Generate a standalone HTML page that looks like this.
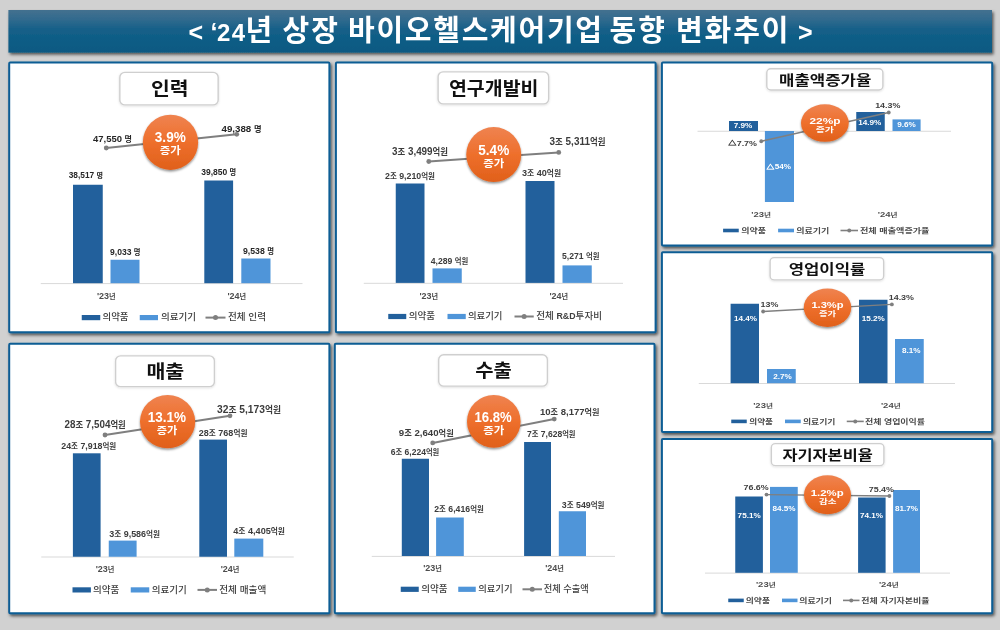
<!DOCTYPE html>
<html lang="ko"><head><meta charset="utf-8"><title>'24년 상장 바이오헬스케어기업 동향 변화추이</title>
<style>
html,body{margin:0;padding:0}
body{width:1000px;height:630px;position:relative;overflow:hidden;background:#d1d1d1;font-family:"Liberation Sans", "Noto Sans CJK KR", sans-serif;}
svg{position:absolute;left:0;top:0;display:block;filter:blur(0.35px)}
svg text{font-family:"Liberation Sans", "Noto Sans CJK KR", sans-serif;}
</style></head><body>

<svg width="1000" height="630" viewBox="0 0 1000 630">
<defs><linearGradient id="tg" x1="0" y1="0" x2="0" y2="1"><stop offset="0" stop-color="#44708f"/><stop offset="0.2" stop-color="#336b8e"/><stop offset="0.48" stop-color="#135f88"/><stop offset="1" stop-color="#0b5982"/></linearGradient><filter id="ps" x="-2%" y="-2%" width="104%" height="104%"><feDropShadow dx="1.5" dy="2" stdDeviation="1.5" flood-color="#000" flood-opacity="0.6"/></filter><filter id="hs" x="-5%" y="-10%" width="110%" height="130%"><feDropShadow dx="0" dy="0.8" stdDeviation="0.8" flood-color="#000" flood-opacity="0.13"/></filter><linearGradient id="og" x1="0" y1="0" x2="0" y2="1"><stop offset="0" stop-color="#ef8350"/><stop offset="0.5" stop-color="#ee6f2c"/><stop offset="1" stop-color="#e0601a"/></linearGradient><filter id="sh" x="-20%" y="-20%" width="140%" height="150%"><feDropShadow dx="0" dy="1.5" stdDeviation="1.3" flood-color="#000" flood-opacity="0.45"/></filter></defs>
<g filter="url(#ps)">
<rect x="8.4" y="10" width="983.6" height="42.6" fill="url(#tg)"/>
<rect x="9.2" y="62.4" width="320.2" height="269.8" rx="1" fill="#fff" stroke="#0a5d94" stroke-width="2"/>
<rect x="335.9" y="62.4" width="319.7" height="269.8" rx="1" fill="#fff" stroke="#0a5d94" stroke-width="2"/>
<rect x="661.9" y="62.5" width="330.3" height="182.9" rx="1" fill="#fff" stroke="#0a5d94" stroke-width="2"/>
<rect x="9.2" y="343.8" width="320.2" height="269.4" rx="1" fill="#fff" stroke="#0a5d94" stroke-width="2"/>
<rect x="334.8" y="343.8" width="319.7" height="269.4" rx="1" fill="#fff" stroke="#0a5d94" stroke-width="2"/>
<rect x="661.9" y="252.2" width="330.3" height="179.9" rx="1" fill="#fff" stroke="#0a5d94" stroke-width="2"/>
<rect x="661.9" y="439" width="330.3" height="174.2" rx="1" fill="#fff" stroke="#0a5d94" stroke-width="2"/>
</g>
<g filter="url(#hs)">
<rect x="119.85" y="72.35" width="98.3" height="32.55" rx="5" fill="#fff" stroke="#cfcfcf" stroke-width="1.4"/>
<rect x="438.1" y="71.85" width="110.55" height="32.05" rx="5" fill="#fff" stroke="#cfcfcf" stroke-width="1.4"/>
<rect x="115.6" y="355.85" width="98.8" height="30.8" rx="5" fill="#fff" stroke="#cfcfcf" stroke-width="1.4"/>
<rect x="438.7" y="354.8" width="108.7" height="31.35" rx="5" fill="#fff" stroke="#cfcfcf" stroke-width="1.4"/>
<rect x="766.8" y="68.7" width="116.1" height="21.3" rx="4" fill="#fff" stroke="#cfcfcf" stroke-width="1.4"/>
<rect x="770.1" y="257.6" width="113.55" height="22.3" rx="4" fill="#fff" stroke="#cfcfcf" stroke-width="1.4"/>
<rect x="771.35" y="443.6" width="112.55" height="22.05" rx="4" fill="#fff" stroke="#cfcfcf" stroke-width="1.4"/>
</g>
<text y="40.5" font-weight="700" fill="#fff"><tspan x="188.5" font-size="25">&lt;</tspan> <tspan x="210.5" font-size="25">‘</tspan><tspan x="217" font-size="24" textLength="28" lengthAdjust="spacing">24</tspan><tspan x="245.5" font-size="29">년</tspan> <tspan x="282.5" font-size="29" textLength="55.5" lengthAdjust="spacing">상장</tspan> <tspan x="348" font-size="29" textLength="254" lengthAdjust="spacing">바이오헬스케어기업</tspan> <tspan x="609.5" font-size="29" textLength="55.5" lengthAdjust="spacing">동향</tspan> <tspan x="676" font-size="29" textLength="112.5" lengthAdjust="spacing">변화추이</tspan> <tspan x="798" font-size="25">&gt;</tspan></text>
<line x1="40.75" y1="283.6" x2="302.5" y2="283.6" stroke="#d9d9d9" stroke-width="1"/>
<rect x="73" y="184.75" width="29.75" height="98.45" fill="#22609c"/>
<rect x="110.5" y="259.75" width="29" height="23.45" fill="#4f95d9"/>
<rect x="204.3" y="180.5" width="28.8" height="102.7" fill="#22609c"/>
<rect x="241.3" y="258.5" width="29.2" height="24.7" fill="#4f95d9"/>
<line x1="106.25" y1="148" x2="236.75" y2="134.3" stroke="#7f7f7f" stroke-width="2"/>
<circle cx="106.25" cy="148" r="2.4" fill="#7f7f7f"/>
<circle cx="236.75" cy="134.3" r="2.4" fill="#7f7f7f"/>
<text x="93" y="142.23" font-size="9.73" font-weight="700" fill="#262626" text-anchor="start" textLength="39" lengthAdjust="spacingAndGlyphs">47,550 <tspan font-size="8.27">명</tspan></text>
<text x="221.5" y="131.82" font-size="9.98" font-weight="700" fill="#262626" text-anchor="start" textLength="40" lengthAdjust="spacingAndGlyphs">49,388 <tspan font-size="8.48">명</tspan></text>
<text x="68.75" y="178.06" font-size="8.55" font-weight="700" fill="#262626" text-anchor="start" textLength="34.25" lengthAdjust="spacingAndGlyphs">38,517 <tspan font-size="7.27">명</tspan></text>
<text x="110" y="255.4" font-size="8.8" font-weight="700" fill="#262626" text-anchor="start" textLength="30.5" lengthAdjust="spacingAndGlyphs">9,033 <tspan font-size="7.48">명</tspan></text>
<text x="201.25" y="175.33" font-size="8.73" font-weight="700" fill="#262626" text-anchor="start" textLength="35" lengthAdjust="spacingAndGlyphs">39,850 <tspan font-size="7.42">명</tspan></text>
<text x="243" y="254.2" font-size="8.94" font-weight="700" fill="#262626" text-anchor="start" textLength="31" lengthAdjust="spacingAndGlyphs">9,538 <tspan font-size="7.6">명</tspan></text>
<text x="96.9" y="298.76" font-size="8.268" font-weight="700" fill="#4d4d4d" text-anchor="start" textLength="18.7" lengthAdjust="spacingAndGlyphs">'23<tspan font-size="6.61">년</tspan></text>
<text x="227.4" y="298.76" font-size="8.268" font-weight="700" fill="#4d4d4d" text-anchor="start" textLength="18.7" lengthAdjust="spacingAndGlyphs">'24<tspan font-size="6.61">년</tspan></text>
<rect x="81.75" y="315" width="18.5" height="5.2" fill="#22609c"/>
<text x="102.5" y="320.4" font-size="9.5" font-weight="500" fill="#404040" text-anchor="start" textLength="26" lengthAdjust="spacingAndGlyphs">의약품</text>
<rect x="139.75" y="315" width="18.25" height="5.2" fill="#4f95d9"/>
<text x="161" y="320.4" font-size="9.5" font-weight="500" fill="#404040" text-anchor="start" textLength="35" lengthAdjust="spacingAndGlyphs">의료기기</text>
<line x1="205.5" y1="317.6" x2="225.5" y2="317.6" stroke="#7f7f7f" stroke-width="2"/>
<circle cx="215.5" cy="317.6" r="2.5" fill="#7f7f7f"/>
<text x="228" y="320.4" font-size="9.5" font-weight="500" fill="#404040" text-anchor="start" textLength="38" lengthAdjust="spacingAndGlyphs">전체 인력</text>
<line x1="363.75" y1="283.3" x2="623" y2="283.3" stroke="#d9d9d9" stroke-width="1"/>
<rect x="395.75" y="183.5" width="28.75" height="99.4" fill="#22609c"/>
<rect x="432.5" y="268.4" width="29.25" height="14.5" fill="#4f95d9"/>
<rect x="525.5" y="181" width="29" height="101.9" fill="#22609c"/>
<rect x="562.5" y="265.4" width="29.25" height="17.5" fill="#4f95d9"/>
<line x1="428.75" y1="161.5" x2="558.75" y2="152.4" stroke="#7f7f7f" stroke-width="2"/>
<circle cx="428.75" cy="161.5" r="2.4" fill="#7f7f7f"/>
<circle cx="558.75" cy="152.4" r="2.4" fill="#7f7f7f"/>
<text x="392" y="154.62" font-size="10.1" font-weight="700" fill="#3c3c3c" text-anchor="start" textLength="56" lengthAdjust="spacingAndGlyphs">3<tspan font-size="8.58">조</tspan> 3,499<tspan font-size="8.58">억원</tspan></text>
<text x="549.5" y="144.62" font-size="10.1" font-weight="700" fill="#3c3c3c" text-anchor="start" textLength="56" lengthAdjust="spacingAndGlyphs">3<tspan font-size="8.58">조</tspan> 5,311<tspan font-size="8.58">억원</tspan></text>
<text x="385" y="179.23" font-size="9.02" font-weight="700" fill="#3c3c3c" text-anchor="start" textLength="50" lengthAdjust="spacingAndGlyphs">2<tspan font-size="7.67">조</tspan> 9,210<tspan font-size="7.67">억원</tspan></text>
<text x="522" y="175.83" font-size="9.3" font-weight="700" fill="#3c3c3c" text-anchor="start" textLength="39" lengthAdjust="spacingAndGlyphs">3<tspan font-size="7.91">조</tspan> 40<tspan font-size="7.91">억원</tspan></text>
<text x="430.75" y="263.67" font-size="8.85" font-weight="700" fill="#3c3c3c" text-anchor="start" textLength="37.5" lengthAdjust="spacingAndGlyphs">4,289 <tspan font-size="7.52">억원</tspan></text>
<text x="562" y="258.92" font-size="8.85" font-weight="700" fill="#3c3c3c" text-anchor="start" textLength="37.5" lengthAdjust="spacingAndGlyphs">5,271 <tspan font-size="7.52">억원</tspan></text>
<text x="419.4" y="299.01" font-size="8.268" font-weight="700" fill="#4d4d4d" text-anchor="start" textLength="18.7" lengthAdjust="spacingAndGlyphs">'23<tspan font-size="6.61">년</tspan></text>
<text x="549.4" y="299.01" font-size="8.268" font-weight="700" fill="#4d4d4d" text-anchor="start" textLength="18.7" lengthAdjust="spacingAndGlyphs">'24<tspan font-size="6.61">년</tspan></text>
<rect x="388.25" y="313.9" width="18" height="5.2" fill="#22609c"/>
<text x="408.75" y="319.3" font-size="9.5" font-weight="500" fill="#404040" text-anchor="start" textLength="26.25" lengthAdjust="spacingAndGlyphs">의약품</text>
<rect x="447.5" y="313.9" width="18.25" height="5.2" fill="#4f95d9"/>
<text x="468" y="319.3" font-size="9.5" font-weight="500" fill="#404040" text-anchor="start" textLength="34.5" lengthAdjust="spacingAndGlyphs">의료기기</text>
<line x1="514.5" y1="316.5" x2="533.75" y2="316.5" stroke="#7f7f7f" stroke-width="2"/>
<circle cx="524.125" cy="316.5" r="2.5" fill="#7f7f7f"/>
<text x="536.25" y="319.3" font-size="9.5" font-weight="500" fill="#404040" text-anchor="start" textLength="65.75" lengthAdjust="spacingAndGlyphs">전체 <tspan font-weight="700" font-size="8.74">R&amp;D</tspan>투자비</text>
<line x1="41.25" y1="557" x2="293.75" y2="557" stroke="#d9d9d9" stroke-width="1"/>
<rect x="72.9" y="453.3" width="27.7" height="103.45" fill="#22609c"/>
<rect x="108.75" y="540.6" width="27.85" height="16.15" fill="#4f95d9"/>
<rect x="199.3" y="439.6" width="27.7" height="117.15" fill="#22609c"/>
<rect x="234.3" y="538.6" width="29" height="18.15" fill="#4f95d9"/>
<line x1="105" y1="435" x2="230" y2="415.8" stroke="#7f7f7f" stroke-width="2"/>
<circle cx="105" cy="435" r="2.4" fill="#7f7f7f"/>
<circle cx="230" cy="415.8" r="2.4" fill="#7f7f7f"/>
<text x="64.5" y="428.31" font-size="10.07" font-weight="700" fill="#3c3c3c" text-anchor="start" textLength="61.25" lengthAdjust="spacingAndGlyphs">28<tspan font-size="8.56">조</tspan> 7,504<tspan font-size="8.56">억원</tspan></text>
<text x="217" y="413.27" font-size="10.52" font-weight="700" fill="#3c3c3c" text-anchor="start" textLength="64" lengthAdjust="spacingAndGlyphs">32<tspan font-size="8.94">조</tspan> 5,173<tspan font-size="8.94">억원</tspan></text>
<text x="61.25" y="448.54" font-size="9.04" font-weight="700" fill="#3c3c3c" text-anchor="start" textLength="55" lengthAdjust="spacingAndGlyphs">24<tspan font-size="7.68">조</tspan> 7,918<tspan font-size="7.68">억원</tspan></text>
<text x="198.75" y="436.31" font-size="9.24" font-weight="700" fill="#3c3c3c" text-anchor="start" textLength="48.75" lengthAdjust="spacingAndGlyphs">28<tspan font-size="7.85">조</tspan> 768<tspan font-size="7.85">억원</tspan></text>
<text x="109.25" y="536.53" font-size="9.16" font-weight="700" fill="#3c3c3c" text-anchor="start" textLength="50.75" lengthAdjust="spacingAndGlyphs">3<tspan font-size="7.79">조</tspan> 9,586<tspan font-size="7.79">억원</tspan></text>
<text x="233.25" y="534.09" font-size="9.34" font-weight="700" fill="#3c3c3c" text-anchor="start" textLength="51.75" lengthAdjust="spacingAndGlyphs">4<tspan font-size="7.94">조</tspan> 4,405<tspan font-size="7.94">억원</tspan></text>
<text x="95.65" y="572.26" font-size="8.268" font-weight="700" fill="#4d4d4d" text-anchor="start" textLength="18.7" lengthAdjust="spacingAndGlyphs">'23<tspan font-size="6.61">년</tspan></text>
<text x="220.65" y="572.26" font-size="8.268" font-weight="700" fill="#4d4d4d" text-anchor="start" textLength="18.7" lengthAdjust="spacingAndGlyphs">'24<tspan font-size="6.61">년</tspan></text>
<rect x="72.5" y="587.3" width="18.4" height="5.2" fill="#22609c"/>
<text x="93" y="592.7" font-size="9.5" font-weight="500" fill="#404040" text-anchor="start" textLength="26.25" lengthAdjust="spacingAndGlyphs">의약품</text>
<rect x="130.75" y="587.3" width="18.5" height="5.2" fill="#4f95d9"/>
<text x="151.75" y="592.7" font-size="9.5" font-weight="500" fill="#404040" text-anchor="start" textLength="35" lengthAdjust="spacingAndGlyphs">의료기기</text>
<line x1="197.5" y1="589.9" x2="217" y2="589.9" stroke="#7f7f7f" stroke-width="2"/>
<circle cx="207.25" cy="589.9" r="2.5" fill="#7f7f7f"/>
<text x="219.25" y="592.7" font-size="9.5" font-weight="500" fill="#404040" text-anchor="start" textLength="47" lengthAdjust="spacingAndGlyphs">전체 매출액</text>
<line x1="371.75" y1="556.4" x2="615" y2="556.4" stroke="#d9d9d9" stroke-width="1"/>
<rect x="401.8" y="458.75" width="27.2" height="97.25" fill="#22609c"/>
<rect x="436.1" y="517.5" width="27.7" height="38.5" fill="#4f95d9"/>
<rect x="524.1" y="442" width="26.9" height="114" fill="#22609c"/>
<rect x="558.8" y="511.25" width="27.2" height="44.75" fill="#4f95d9"/>
<line x1="432.7" y1="442.9" x2="554.25" y2="419.1" stroke="#7f7f7f" stroke-width="2"/>
<circle cx="432.7" cy="442.9" r="2.4" fill="#7f7f7f"/>
<circle cx="554.25" cy="419.1" r="2.4" fill="#7f7f7f"/>
<text x="398.75" y="436.05" font-size="9.92" font-weight="700" fill="#3c3c3c" text-anchor="start" textLength="55" lengthAdjust="spacingAndGlyphs">9<tspan font-size="8.43">조</tspan> 2,640<tspan font-size="8.43">억원</tspan></text>
<text x="540" y="415.25" font-size="9.78" font-weight="700" fill="#3c3c3c" text-anchor="start" textLength="59.5" lengthAdjust="spacingAndGlyphs">10<tspan font-size="8.31">조</tspan> 8,177<tspan font-size="8.31">억원</tspan></text>
<text x="390.75" y="455.13" font-size="8.75" font-weight="700" fill="#3c3c3c" text-anchor="start" textLength="48.5" lengthAdjust="spacingAndGlyphs">6<tspan font-size="7.44">조</tspan> 6,224<tspan font-size="7.44">억원</tspan></text>
<text x="527" y="436.88" font-size="8.75" font-weight="700" fill="#3c3c3c" text-anchor="start" textLength="48.5" lengthAdjust="spacingAndGlyphs">7<tspan font-size="7.44">조</tspan> 7,628<tspan font-size="7.44">억원</tspan></text>
<text x="434.25" y="512.2" font-size="8.93" font-weight="700" fill="#3c3c3c" text-anchor="start" textLength="49.5" lengthAdjust="spacingAndGlyphs">2<tspan font-size="7.59">조</tspan> 6,416<tspan font-size="7.59">억원</tspan></text>
<text x="561.75" y="507.73" font-size="9.03" font-weight="700" fill="#3c3c3c" text-anchor="start" textLength="42.75" lengthAdjust="spacingAndGlyphs">3<tspan font-size="7.68">조</tspan> 549<tspan font-size="7.68">억원</tspan></text>
<text x="423.15" y="571.16" font-size="8.268" font-weight="700" fill="#4d4d4d" text-anchor="start" textLength="18.7" lengthAdjust="spacingAndGlyphs">'23<tspan font-size="6.61">년</tspan></text>
<text x="545.15" y="571.16" font-size="8.268" font-weight="700" fill="#4d4d4d" text-anchor="start" textLength="18.7" lengthAdjust="spacingAndGlyphs">'24<tspan font-size="6.61">년</tspan></text>
<rect x="400.75" y="586.7" width="18" height="5.2" fill="#22609c"/>
<text x="421.25" y="592.1" font-size="9.5" font-weight="500" fill="#404040" text-anchor="start" textLength="26.25" lengthAdjust="spacingAndGlyphs">의약품</text>
<rect x="458.25" y="586.7" width="17.5" height="5.2" fill="#4f95d9"/>
<text x="478.25" y="592.1" font-size="9.5" font-weight="500" fill="#404040" text-anchor="start" textLength="34.25" lengthAdjust="spacingAndGlyphs">의료기기</text>
<line x1="522.5" y1="589.3" x2="542" y2="589.3" stroke="#7f7f7f" stroke-width="2"/>
<circle cx="532.25" cy="589.3" r="2.5" fill="#7f7f7f"/>
<text x="543.75" y="592.1" font-size="9.5" font-weight="500" fill="#404040" text-anchor="start" textLength="45" lengthAdjust="spacingAndGlyphs">전체 수출액</text>
<line x1="697.5" y1="131.25" x2="951" y2="131.25" stroke="#d9d9d9" stroke-width="1"/>
<rect x="729" y="121" width="29" height="10" fill="#22609c"/>
<rect x="764.9" y="131" width="29.1" height="71" fill="#4f95d9"/>
<rect x="856.25" y="112" width="28.5" height="19" fill="#22609c"/>
<rect x="892.5" y="119.4" width="28.1" height="11.6" fill="#4f95d9"/>
<line x1="761.25" y1="141.25" x2="888.75" y2="112.5" stroke="#7f7f7f" stroke-width="1.3"/>
<circle cx="761.25" cy="141.25" r="1.9" fill="#7f7f7f"/>
<circle cx="888.75" cy="112.5" r="1.9" fill="#7f7f7f"/>
<text y="145.61" font-weight="700" fill="#404040"><tspan x="728.23" dy="-0.2" font-size="5.4" stroke="#404040" stroke-width="0.35" textLength="8.18" lengthAdjust="spacingAndGlyphs">△</tspan><tspan x="736.7" dy="0.2" font-size="7.3" textLength="20.3" lengthAdjust="spacingAndGlyphs">7.7%</tspan></text>
<text x="875.18" y="108.11" font-size="7.3" font-weight="700" fill="#404040" textLength="25.25" lengthAdjust="spacingAndGlyphs">14.3%</text>
<text x="733.71" y="128.11" font-size="7" font-weight="700" fill="#ffffff" textLength="18.59" lengthAdjust="spacingAndGlyphs">7.9%</text>
<text y="169.01" font-weight="700" fill="#ffffff"><tspan x="766.62" dy="-0.2" font-size="5.18" stroke="#ffffff" stroke-width="0.35" textLength="7.84" lengthAdjust="spacingAndGlyphs">△</tspan><tspan x="774.76" dy="0.2" font-size="7" textLength="16.32" lengthAdjust="spacingAndGlyphs">54%</tspan></text>
<text x="858.19" y="125.31" font-size="7" font-weight="700" fill="#ffffff" textLength="23.12" lengthAdjust="spacingAndGlyphs">14.9%</text>
<text x="897.31" y="126.51" font-size="7" font-weight="700" fill="#ffffff" textLength="18.59" lengthAdjust="spacingAndGlyphs">9.6%</text>
<text x="751.225" y="216.7" font-size="6.996" font-weight="700" fill="#4d4d4d" text-anchor="start" textLength="19.75" lengthAdjust="spacingAndGlyphs">'23<tspan font-size="5.6">년</tspan></text>
<text x="877.725" y="216.7" font-size="6.996" font-weight="700" fill="#4d4d4d" text-anchor="start" textLength="19.75" lengthAdjust="spacingAndGlyphs">'24<tspan font-size="5.6">년</tspan></text>
<rect x="723.1" y="228.7" width="15.65" height="3.6" fill="#22609c"/>
<text x="741.25" y="232.63" font-size="6.5" font-weight="700" fill="#4a4a4a" text-anchor="start" textLength="24.75" lengthAdjust="spacingAndGlyphs">의약품</text>
<rect x="778.1" y="228.7" width="15.9" height="3.6" fill="#4f95d9"/>
<text x="796.25" y="232.63" font-size="6.5" font-weight="700" fill="#4a4a4a" text-anchor="start" textLength="33.15" lengthAdjust="spacingAndGlyphs">의료기기</text>
<line x1="840.5" y1="230.5" x2="858" y2="230.5" stroke="#7f7f7f" stroke-width="1.6"/>
<circle cx="849.25" cy="230.5" r="2" fill="#7f7f7f"/>
<text x="860" y="232.63" font-size="6.5" font-weight="700" fill="#4a4a4a" text-anchor="start" textLength="69.5" lengthAdjust="spacingAndGlyphs">전체 매출액증가율</text>
<line x1="698.75" y1="383.5" x2="955" y2="383.5" stroke="#d9d9d9" stroke-width="1"/>
<rect x="730.6" y="303.75" width="28.4" height="79.45" fill="#22609c"/>
<rect x="767" y="369" width="28.75" height="14.2" fill="#4f95d9"/>
<rect x="859" y="299.75" width="28.5" height="83.45" fill="#22609c"/>
<rect x="895" y="339" width="28.75" height="44.2" fill="#4f95d9"/>
<line x1="763.1" y1="311.5" x2="891.9" y2="304.4" stroke="#7f7f7f" stroke-width="1.3"/>
<circle cx="763.1" cy="311.5" r="1.9" fill="#7f7f7f"/>
<circle cx="891.9" cy="304.4" r="1.9" fill="#7f7f7f"/>
<text x="760.6" y="307.01" font-size="7.3" font-weight="700" fill="#404040" textLength="17.82" lengthAdjust="spacingAndGlyphs">13%</text>
<text x="888.75" y="300.11" font-size="7.3" font-weight="700" fill="#404040" textLength="25.25" lengthAdjust="spacingAndGlyphs">14.3%</text>
<text x="733.94" y="321.11" font-size="7" font-weight="700" fill="#ffffff" textLength="23.12" lengthAdjust="spacingAndGlyphs">14.4%</text>
<text x="773.31" y="378.51" font-size="7" font-weight="700" fill="#ffffff" textLength="18.59" lengthAdjust="spacingAndGlyphs">2.7%</text>
<text x="861.74" y="320.61" font-size="7" font-weight="700" fill="#ffffff" textLength="23.12" lengthAdjust="spacingAndGlyphs">15.2%</text>
<text x="902.01" y="352.51" font-size="7" font-weight="700" fill="#ffffff" textLength="18.59" lengthAdjust="spacingAndGlyphs">8.1%</text>
<text x="753.125" y="408.45" font-size="6.996" font-weight="700" fill="#4d4d4d" text-anchor="start" textLength="19.75" lengthAdjust="spacingAndGlyphs">'23<tspan font-size="5.6">년</tspan></text>
<text x="880.875" y="408.45" font-size="6.996" font-weight="700" fill="#4d4d4d" text-anchor="start" textLength="19.75" lengthAdjust="spacingAndGlyphs">'24<tspan font-size="5.6">년</tspan></text>
<rect x="731.25" y="419.6" width="15.5" height="3.6" fill="#22609c"/>
<text x="749.25" y="423.53" font-size="6.5" font-weight="700" fill="#4a4a4a" text-anchor="start" textLength="23.75" lengthAdjust="spacingAndGlyphs">의약품</text>
<rect x="785" y="419.6" width="15.75" height="3.6" fill="#4f95d9"/>
<text x="803" y="423.53" font-size="6.5" font-weight="700" fill="#4a4a4a" text-anchor="start" textLength="32.5" lengthAdjust="spacingAndGlyphs">의료기기</text>
<line x1="846.75" y1="421.4" x2="863.75" y2="421.4" stroke="#7f7f7f" stroke-width="1.6"/>
<circle cx="855.25" cy="421.4" r="2" fill="#7f7f7f"/>
<text x="865" y="423.53" font-size="6.5" font-weight="700" fill="#4a4a4a" text-anchor="start" textLength="60" lengthAdjust="spacingAndGlyphs">전체 영업이익률</text>
<line x1="705" y1="573.1" x2="950" y2="573.1" stroke="#d9d9d9" stroke-width="1"/>
<rect x="735.25" y="496.5" width="27.65" height="76.3" fill="#22609c"/>
<rect x="770" y="486.9" width="27.75" height="85.9" fill="#4f95d9"/>
<rect x="858.1" y="497.5" width="27.5" height="75.3" fill="#22609c"/>
<rect x="893.1" y="490" width="26.9" height="82.8" fill="#4f95d9"/>
<line x1="766.5" y1="494.6" x2="889.4" y2="496" stroke="#7f7f7f" stroke-width="1.3"/>
<circle cx="766.5" cy="494.6" r="1.9" fill="#7f7f7f"/>
<circle cx="889.4" cy="496" r="1.9" fill="#7f7f7f"/>
<text x="743.5" y="490.41" font-size="7.3" font-weight="700" fill="#404040" textLength="25.25" lengthAdjust="spacingAndGlyphs">76.6%</text>
<text x="868.75" y="491.61" font-size="7.3" font-weight="700" fill="#404040" textLength="25.25" lengthAdjust="spacingAndGlyphs">75.4%</text>
<text x="737.64" y="517.51" font-size="7" font-weight="700" fill="#ffffff" textLength="23.12" lengthAdjust="spacingAndGlyphs">75.1%</text>
<text x="772.44" y="510.61" font-size="7" font-weight="700" fill="#ffffff" textLength="23.12" lengthAdjust="spacingAndGlyphs">84.5%</text>
<text x="859.94" y="517.76" font-size="7" font-weight="700" fill="#ffffff" textLength="23.12" lengthAdjust="spacingAndGlyphs">74.1%</text>
<text x="894.94" y="510.91" font-size="7" font-weight="700" fill="#ffffff" textLength="23.12" lengthAdjust="spacingAndGlyphs">81.7%</text>
<text x="755.875" y="586.7" font-size="6.996" font-weight="700" fill="#4d4d4d" text-anchor="start" textLength="19.75" lengthAdjust="spacingAndGlyphs">'23<tspan font-size="5.6">년</tspan></text>
<text x="878.875" y="586.7" font-size="6.996" font-weight="700" fill="#4d4d4d" text-anchor="start" textLength="19.75" lengthAdjust="spacingAndGlyphs">'24<tspan font-size="5.6">년</tspan></text>
<rect x="728.25" y="598.6" width="15.5" height="3.6" fill="#22609c"/>
<text x="745.75" y="602.53" font-size="6.5" font-weight="700" fill="#4a4a4a" text-anchor="start" textLength="24.25" lengthAdjust="spacingAndGlyphs">의약품</text>
<rect x="782" y="598.6" width="15.5" height="3.6" fill="#4f95d9"/>
<text x="799.25" y="602.53" font-size="6.5" font-weight="700" fill="#4a4a4a" text-anchor="start" textLength="32.75" lengthAdjust="spacingAndGlyphs">의료기기</text>
<line x1="843" y1="600.4" x2="859.5" y2="600.4" stroke="#7f7f7f" stroke-width="1.6"/>
<circle cx="851.25" cy="600.4" r="2" fill="#7f7f7f"/>
<text x="861.25" y="602.53" font-size="6.5" font-weight="700" fill="#4a4a4a" text-anchor="start" textLength="68.25" lengthAdjust="spacingAndGlyphs">전체 자기자본비율</text>
<ellipse cx="170.5" cy="142.3" rx="27.65" ry="27.65" fill="url(#og)" filter="url(#sh)"/>
<text x="154.8" y="141.81" font-size="14" font-weight="700" fill="#fff" textLength="31" lengthAdjust="spacingAndGlyphs">3.9%</text>
<text x="159.8" y="153.67" font-size="10.5" font-weight="700" fill="#fff" textLength="21" lengthAdjust="spacingAndGlyphs">증가</text>
<ellipse cx="493.75" cy="154.6" rx="27.5" ry="27.5" fill="url(#og)" filter="url(#sh)"/>
<text x="478.25" y="154.81" font-size="14" font-weight="700" fill="#fff" textLength="31" lengthAdjust="spacingAndGlyphs">5.4%</text>
<text x="483.25" y="166.77" font-size="10.5" font-weight="700" fill="#fff" textLength="21" lengthAdjust="spacingAndGlyphs">증가</text>
<ellipse cx="167.6" cy="421.6" rx="27.625" ry="26.6" fill="url(#og)" filter="url(#sh)"/>
<text x="147.8" y="422.11" font-size="14" font-weight="700" fill="#fff" textLength="38.3" lengthAdjust="spacingAndGlyphs">13.1%</text>
<text x="156.75" y="433.57" font-size="10.5" font-weight="700" fill="#fff" textLength="20.65" lengthAdjust="spacingAndGlyphs">증가</text>
<ellipse cx="493.8" cy="421.4" rx="26.8" ry="26.4" fill="url(#og)" filter="url(#sh)"/>
<text x="474.5" y="422.01" font-size="14" font-weight="700" fill="#fff" textLength="37.3" lengthAdjust="spacingAndGlyphs">16.8%</text>
<text x="483.3" y="433.57" font-size="10.5" font-weight="700" fill="#fff" textLength="21" lengthAdjust="spacingAndGlyphs">증가</text>
<ellipse cx="824.9" cy="123.1" rx="23.875" ry="18.75" fill="url(#og)" filter="url(#sh)"/>
<text x="809.5" y="124.19" font-size="9.6" font-weight="700" fill="#fff" textLength="31" lengthAdjust="spacingAndGlyphs">22%p</text>
<text x="815.75" y="132.21" font-size="6.8" font-weight="700" fill="#fff" textLength="18.25" lengthAdjust="spacingAndGlyphs">증가</text>
<ellipse cx="827.5" cy="307.7" rx="23.75" ry="19.2" fill="url(#og)" filter="url(#sh)"/>
<text x="811.4" y="308.44" font-size="9.6" font-weight="700" fill="#fff" textLength="32.2" lengthAdjust="spacingAndGlyphs">1.3%p</text>
<text x="818.9" y="316.06" font-size="6.8" font-weight="700" fill="#fff" textLength="17.2" lengthAdjust="spacingAndGlyphs">증가</text>
<ellipse cx="827.5" cy="494.8" rx="23.5" ry="19.5" fill="url(#og)" filter="url(#sh)"/>
<text x="810.75" y="495.84" font-size="9.6" font-weight="700" fill="#fff" textLength="32.85" lengthAdjust="spacingAndGlyphs">1.2%p</text>
<text x="818.9" y="503.91" font-size="6.8" font-weight="700" fill="#fff" textLength="17.6" lengthAdjust="spacingAndGlyphs">감소</text>
<text x="150.9" y="95.14" font-size="18" font-weight="700" fill="#111" textLength="37.6" lengthAdjust="spacingAndGlyphs">인력</text>
<text x="448.9" y="94.91" font-size="18.5" font-weight="700" fill="#111" textLength="89.6" lengthAdjust="spacingAndGlyphs">연구개발비</text>
<text x="146.4" y="377.74" font-size="18" font-weight="700" fill="#111" textLength="37.9" lengthAdjust="spacingAndGlyphs">매출</text>
<text x="475.2" y="376.54" font-size="18" font-weight="700" fill="#111" textLength="36.6" lengthAdjust="spacingAndGlyphs">수출</text>
<text x="779" y="85.19" font-size="13.6" font-weight="700" fill="#111" textLength="92.3" lengthAdjust="spacingAndGlyphs">매출액증가율</text>
<text x="788.7" y="273.99" font-size="13.6" font-weight="700" fill="#111" textLength="76.6" lengthAdjust="spacingAndGlyphs">영업이익률</text>
<text x="782.45" y="459.69" font-size="13.6" font-weight="700" fill="#111" textLength="90.35" lengthAdjust="spacingAndGlyphs">자기자본비율</text>
</svg>
</body></html>
